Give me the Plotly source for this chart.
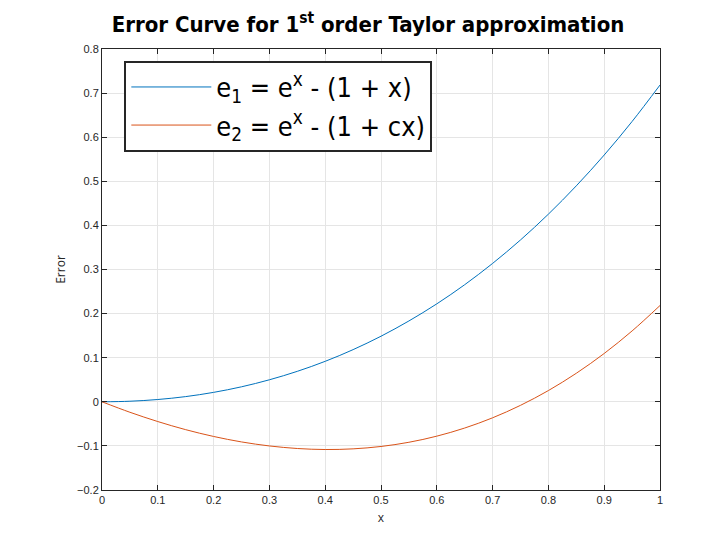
import plotly.graph_objects as go

x = [0, 0.05, 0.1, 0.15, 0.2, 0.25, 0.3, 0.35, 0.4, 0.45, 0.5, 0.55, 0.6, 0.65, 0.7, 0.75, 0.8, 0.85, 0.9, 0.95, 1.0]
e1 = [0, 0.0013, 0.0052, 0.0118, 0.0214, 0.0340, 0.0499, 0.0691, 0.0918, 0.1183, 0.1487, 0.1833, 0.2221, 0.2655, 0.3138, 0.3670, 0.4255, 0.4897, 0.5596, 0.6357, 0.7183]
e2 = [0, -0.0237, -0.0448, -0.0632, -0.0786, -0.0910, -0.1001, -0.1059, -0.1082, -0.1067, -0.1013, -0.0918, -0.0779, -0.0595, -0.0363, -0.0080, 0.0255, 0.0647, 0.1096, 0.1607, 0.2183]

cond = "DejaVu Sans Condensed, Liberation Sans Narrow, sans-serif"
fig = go.Figure()
fig.add_trace(go.Scatter(x=x, y=e1, mode="lines", line=dict(color="#0072BD", width=1, shape="spline"),
                         name="e<sub>1</sub> = e<sup>x</sup> - (1 + x)"))
fig.add_trace(go.Scatter(x=x, y=e2, mode="lines", line=dict(color="#D95319", width=1, shape="spline"),
                         name="e<sub>2</sub> = e<sup>x</sup> - (1 + cx)"))

ax = dict(showline=True, linecolor="#262626", linewidth=1, mirror="ticks", ticks="inside", ticklen=5,
          tickcolor="#262626", showgrid=True, gridcolor="#E5E5E5", zeroline=False, automargin=False,
          tickfont=dict(size=11, color="#262626", family="Liberation Sans, Arial"))
fig.update_xaxes(**ax, range=[0, 1], dtick=0.1, tickformat="~g",
                 title=dict(text="x", font=dict(size=12, color="#262626"), standoff=8))
fig.update_yaxes(**ax, range=[-0.2, 0.8], dtick=0.1, tickformat="~g",
                 title=dict(text="Error", font=dict(size=12, color="#262626"), standoff=8))
fig.update_layout(
    width=720, height=540, paper_bgcolor="white", plot_bgcolor="white",
    margin=dict(l=94, r=68, t=41, b=58, autoexpand=False),
    separators=".,",
    title=dict(text="<b>Error Curve for 1<sup>st</sup> order Taylor approximation</b>",
               x=0.5, xanchor="center", y=0.955, yanchor="bottom",
               font=dict(size=22, color="black", family=cond)),
    legend=dict(x=0.04, y=0.973, xanchor="left", yanchor="top", bgcolor="white",
                bordercolor="#262626", borderwidth=2, itemwidth=80, tracegroupgap=20,
                font=dict(size=27, color="black", family=cond)),
    showlegend=True,
)
fig.write_html("out.html")
